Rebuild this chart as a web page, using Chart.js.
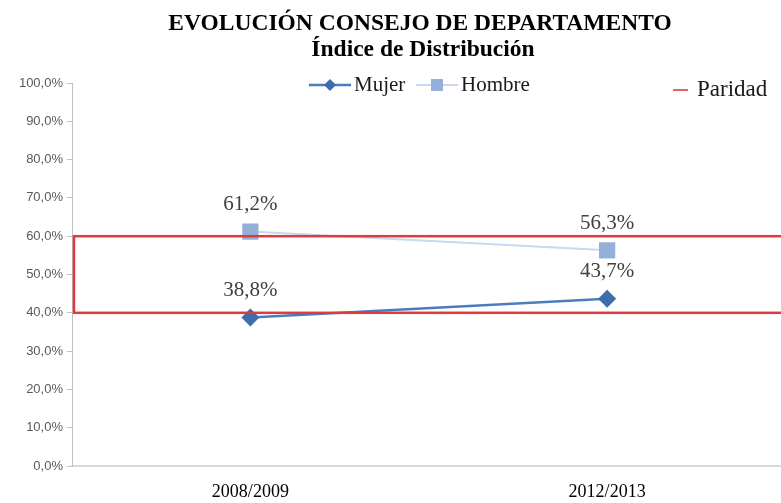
<!DOCTYPE html>
<html>
<head>
<meta charset="utf-8">
<script src="https://cdn.jsdelivr.net/npm/chart.js@4.4.1/dist/chart.umd.min.js"></script>
<style>
    html, body { margin: 0; padding: 0; background: #fff; overflow: hidden; }
    canvas { display: block; }
</style>
</head>
<body>
<canvas id="chart" width="797" height="503"></canvas>
<script>
// chart data
const titleLines = ['EVOLUCIÓN CONSEJO DE DEPARTAMENTO', 'Índice de Distribución'];
const periods = ['2008/2009', '2012/2013'];
const mujer = [38.8, 43.7];
const hombre = [61.2, 56.3];
const paridad = [40, 60];   // band low / high
const paridadLabel = 'Paridad';

const serif = "'Liberation Serif', 'Times New Roman', serif";
const fmt = v => v.toFixed(1).replace('.', ',') + '%';

// title, legend, parity box and value labels
const decorations = {
    id: 'decorations',
    afterDatasetsDraw(chart) {
        const ctx = chart.ctx;
        const { left, right } = chart.chartArea;
        const y = chart.scales.y;

        // paridad box
        ctx.save();
        ctx.strokeStyle = '#e03a3e';
        ctx.lineWidth = 2.5;
        ctx.strokeRect(left + 2, y.getPixelForValue(paridad[1]), right + 20 - left, y.getPixelForValue(paridad[0]) - y.getPixelForValue(paridad[1]));
        ctx.restore();

        // value labels above points
        ctx.save();
        ctx.font = '21px ' + serif;
        ctx.fillStyle = '#404040';
        ctx.textAlign = 'center';
        ctx.textBaseline = 'middle';
        chart.data.datasets.forEach((ds, i) => {
            chart.getDatasetMeta(i).data.forEach((pt, j) => {
                ctx.fillText(fmt(ds.data[j]), pt.x, pt.y - 27);
            });
        });
        ctx.restore();
    },
    afterDraw(chart) {
        const ctx = chart.ctx;
        ctx.save();
        ctx.fillStyle = '#000';
        ctx.textAlign = 'center';
        ctx.textBaseline = 'alphabetic';
        ctx.font = 'bold 23.5px ' + serif;
        ctx.fillText(titleLines[0], 420, 30);
        ctx.fillText(titleLines[1], 423, 56);

        // legend
        ctx.font = '21px ' + serif;
        ctx.textAlign = 'left';
        ctx.textBaseline = 'middle';
        const items = [
            { ds: chart.data.datasets[0], x: 309 },
            { ds: chart.data.datasets[1], x: 416 }
        ];
        items.forEach(it => {
            const ly = 85;
            ctx.strokeStyle = it.ds.borderColor;
            ctx.lineWidth = it.ds.borderWidth;
            ctx.beginPath();
            ctx.moveTo(it.x, ly);
            ctx.lineTo(it.x + 42, ly);
            ctx.stroke();
            ctx.fillStyle = it.ds.pointBackgroundColor;
            ctx.beginPath();
            if (it.ds.pointStyle === 'rect') {
                ctx.rect(it.x + 15, ly - 6, 12, 12);
            } else {
                ctx.moveTo(it.x + 21, ly - 6);
                ctx.lineTo(it.x + 27, ly);
                ctx.lineTo(it.x + 21, ly + 6);
                ctx.lineTo(it.x + 15, ly);
                ctx.closePath();
            }
            ctx.fill();
            ctx.fillStyle = '#1a1a1a';
            ctx.fillText(it.ds.label, it.x + 45, ly);
        });

        // paridad legend entry
        ctx.strokeStyle = '#e06666';
        ctx.lineWidth = 2;
        ctx.beginPath();
        ctx.moveTo(673, 90);
        ctx.lineTo(688, 90);
        ctx.stroke();
        ctx.font = '23px ' + serif;
        ctx.fillStyle = '#1a1a1a';
        ctx.fillText(paridadLabel, 697, 90);
        ctx.restore();
    }
};

new Chart(document.getElementById('chart'), {
    type: 'line',
    data: {
        labels: periods,
        datasets: [
            {
                label: 'Mujer',
                data: mujer,
                borderColor: '#4a7ebb',
                borderWidth: 2.5,
                pointStyle: 'rectRot',
                pointRadius: 9,
                pointBackgroundColor: '#3d6dac',
                pointBorderWidth: 0
            },
            {
                label: 'Hombre',
                data: hombre,
                borderColor: '#c6d9f1',
                borderWidth: 2,
                pointStyle: 'rect',
                pointRadius: 11.5,
                pointBackgroundColor: '#95b0d8',
                pointBorderWidth: 0
            }
        ]
    },
    options: {
        responsive: false,
        animation: false,
        layout: { padding: { top: 83, left: 0, right: 0, bottom: 0 } },
        plugins: {
            legend: { display: false },
            title: { display: false },
            tooltip: { enabled: false }
        },
        scales: {
            x: {
                offset: true,
                grid: { display: false },
                border: { color: '#d9d9d9', width: 2 },
                ticks: {
                    color: '#000',
                    padding: 7,
                    font: { family: serif, size: 18 }
                },
                afterFit: s => { s.height = 37; }
            },
            y: {
                min: 0,
                max: 100,
                ticks: {
                    stepSize: 10,
                    color: '#595959',
                    padding: 4,
                    font: { family: "'Liberation Sans', Arial, sans-serif", size: 13 },
                    callback: v => fmt(v)
                },
                grid: { drawOnChartArea: false, drawTicks: true, tickLength: 5, color: '#bfbfbf' },
                border: { color: '#bfbfbf', width: 1 },
                afterFit: s => { s.width = 72; }
            }
        }
    },
    plugins: [decorations]
});
</script>
</body>
</html>
